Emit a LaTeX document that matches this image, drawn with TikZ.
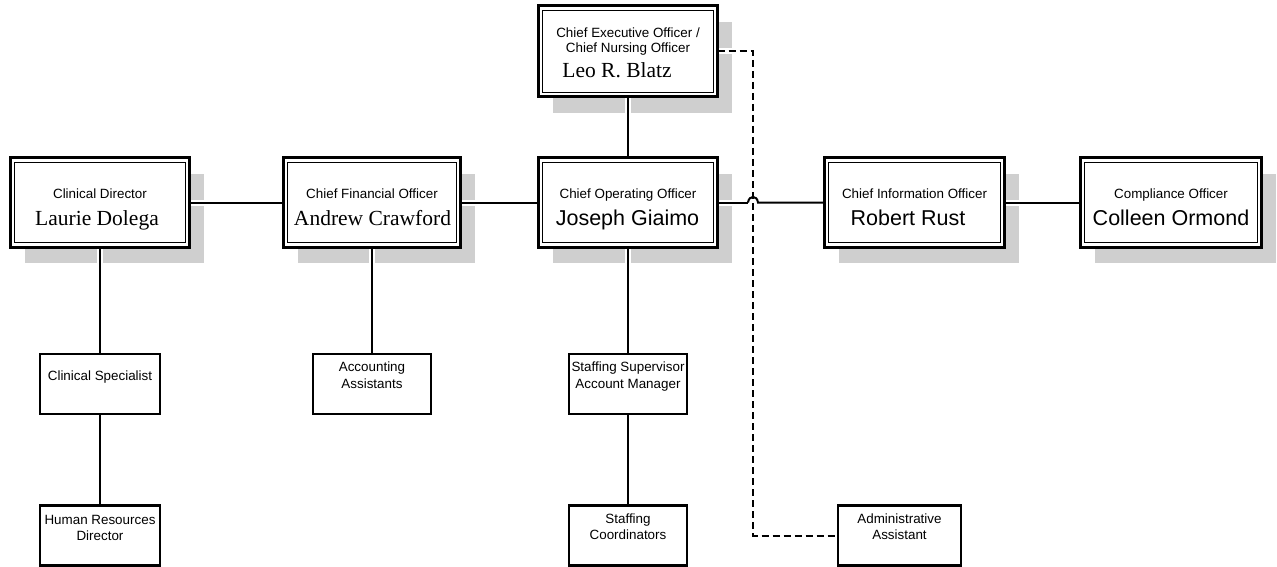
\documentclass[tikz,border=0pt]{standalone}
\usepackage{fontspec}
\setmainfont{Liberation Serif}
\newfontfamily\arialf{Liberation Sans}
\usetikzlibrary{backgrounds}
\definecolor{shadowc}{gray}{0.81}
\begin{document}
\begin{tikzpicture}[x=1pt,y=-1pt,
  bigbox/.style={draw, line width=3pt, fill=white, inner sep=0pt, outer sep=0pt,
                 minimum width=#1, minimum height=89pt},
  smallbox/.style={draw, line width=2.4pt, fill=white, inner sep=0pt, outer sep=0pt,
                 minimum width=#1, minimum height=60pt},
  lbl/.style={font=\arialf\fontsize{13.4}{16}\selectfont, anchor=base, inner sep=0pt},
  sname/.style={font=\arialf\fontsize{21.5}{25}\selectfont, anchor=base, inner sep=0pt},
  rname/.style={font=\fontsize{21.5}{25}\selectfont, anchor=base, inner sep=0pt},
  conn/.style={line width=2pt},
  halo/.style={preaction={draw=white, line width=6pt, solid}},
  dashconn/.style={line width=2pt, dash pattern=on 7pt off 4pt}
]
\useasboundingbox (0,0) rectangle (1277,567);
% boxes
\node[bigbox=179pt, minimum height=91pt] (ceo)  at (628,51.5) {};
\node[bigbox=179pt] (cd)   at (100,202.5) {};
\node[bigbox=177pt] (cfo)  at (372,202.5) {};
\node[bigbox=179pt] (coo)  at (628,202.5) {};
\node[bigbox=180pt] (cio)  at (914.5,202.5) {};
\node[bigbox=181pt] (comp) at (1171,202.5) {};
\node[smallbox=120pt] (cs)  at (100,384) {};
\node[smallbox=118pt] (aa)  at (372,384) {};
\node[smallbox=118pt] (ss)  at (628,384) {};
\node[smallbox=120pt] (hr)  at (100,535.5) {};
\node[smallbox=118pt] (sc)  at (628,535.5) {};
\node[smallbox=123pt] (adm) at (899.5,535.5) {};
% inner thin frames
\foreach \n in {ceo,cd,cfo,coo,cio,comp}
  \draw[line width=1.2pt] ([xshift=4.2pt,yshift=-4.2pt]\n.north west) rectangle ([xshift=-4.2pt,yshift=4.2pt]\n.south east);
% texts
\node[lbl] (ceol1) at (628,38) {Chief Executive Officer /};
\node[lbl] (ceol2) at (628,53) {Chief Nursing Officer};
\node[rname] (ceon) at (617,78) {Leo R. Blatz};
\node[lbl] (cdl) at (100,198) {Clinical Director};
\node[rname] (cdn) at (97,225) {Laurie Dolega};
\node[lbl] (cfol) at (372,198) {Chief Financial Officer};
\node[rname] (cfon) at (372.5,225) {Andrew Crawford};
\node[lbl] (cool) at (628,198) {Chief Operating Officer};
\node[sname] (coon) at (627.5,225) {Joseph Giaimo};
\node[lbl] (ciol) at (914.5,198) {Chief Information Officer};
\node[sname] (cion) at (908,225) {Robert Rust};
\node[lbl] (compl) at (1171,198) {Compliance Officer};
\node[sname] (compn) at (1171,225) {Colleen Ormond};
\node[lbl] (csl) at (100,380) {Clinical Specialist};
\node[lbl] (aal1) at (372,371) {Accounting};
\node[lbl] (aal2) at (372,388) {Assistants};
\node[lbl] (ssl1) at (628,371) {Staffing Supervisor};
\node[lbl] (ssl2) at (628,388) {Account Manager};
\node[lbl] (hrl1) at (100,524) {Human Resources};
\node[lbl] (hrl2) at (100,540) {Director};
\node[lbl] (scl1) at (628,523) {Staffing};
\node[lbl] (scl2) at (628,539) {Coordinators};
\node[lbl] (adml1) at (899.5,523) {Administrative};
\node[lbl] (adml2) at (899.5,539) {Assistant};
% jump and corner coordinates
\coordinate (jl) at (748,202.5);
\coordinate (jr) at (758,202.5);
\coordinate (dk) at (753,535.5);
\begin{scope}[on background layer]
  \foreach \n in {ceo,cd,cfo,coo,cio,comp}
    \fill[shadowc] ([shift={(14,16)}]\n.north west) rectangle ([shift={(14,16)}]\n.south east);
  \draw[conn, halo] (cd) -- (cfo);
  \draw[conn, halo] (cfo) -- (coo);
  \draw[conn, halo] (cio) -- (comp);
  \draw[conn, halo] (ceo) -- (coo);
  \draw[conn, halo] (cd) -- (cs);
  \draw[conn, halo] (cs) -- (hr);
  \draw[conn, halo] (cfo) -- (aa);
  \draw[conn, halo] (coo) -- (ss);
  \draw[conn, halo] (ss) -- (sc);
  \draw[dashconn, halo] (ceo.east) -| (dk) -- (adm.west);
  \draw[conn, halo] (coo.east) -- (jl);
  \draw[conn] (jl) .. controls (749,195) and (757,195) .. (jr) -- (cio.west);
\end{scope}
\end{tikzpicture}
\end{document}
